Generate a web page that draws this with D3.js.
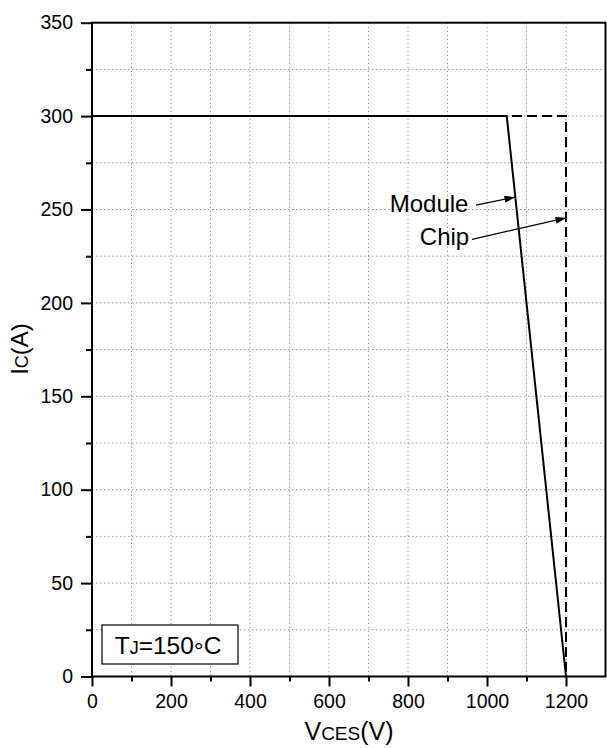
<!DOCTYPE html>
<html>
<head>
<meta charset="utf-8">
<script src="https://cdn.jsdelivr.net/npm/d3@7"></script>
<style>
  html, body { margin: 0; padding: 0; background: #fff; }
  svg { display: block; font-family: "Liberation Sans", Arial, sans-serif; }
</style>
</head>
<body>
<svg id="chart" width="607" height="748"></svg>
<script>
// Reverse bias safe operating area (RBSOA) data
const moduleV = [0, 1050, 1200];
const moduleI = [300, 300, 0];
const chipV = [0, 1200, 1200];
const chipI = [300, 300, 0];

const xMajorTicks = [0, 200, 400, 600, 800, 1000, 1200];
const xMinorTicks = [100, 300, 500, 700, 900, 1100];
const yMajorTicks = [0, 50, 100, 150, 200, 250, 300, 350];
const yMinorTicks = [25, 75, 125, 175, 225, 275, 325];

// Curve labels with leader arrows, in data units [V, I]
const annotationNames = ["Module", "Chip"];
const annotationText = [[953, 248.6], [955, 231]];
const annotationTail = [[972, 252.3], [962, 234]];
const annotationTip = [[1071, 256.6], [1200, 245.5]];

const svg = d3.select("#chart");
const plotLeft = 92, plotRight = 605.5, plotTop = 22.7, plotBottom = 676.5;

const x = d3.scaleLinear().domain([0, 1300]).range([plotLeft, plotRight]);
const y = d3.scaleLinear().domain([0, 350]).range([plotBottom, plotTop]);

// Grid
const grid = svg.append("g")
  .attr("stroke", "#9a9a9a")
  .attr("stroke-width", 1)
  .attr("stroke-dasharray", "1.5,2.5");
grid.selectAll("line.vx")
  .data(xMajorTicks.concat(xMinorTicks).filter(v => v > 0))
  .join("line")
  .attr("class", "vx")
  .attr("x1", d => x(d)).attr("x2", d => x(d))
  .attr("y1", plotTop).attr("y2", plotBottom);
grid.selectAll("line.hy")
  .data(yMajorTicks.concat(yMinorTicks).filter(v => v > 0 && v < 350))
  .join("line")
  .attr("class", "hy")
  .attr("x1", plotLeft).attr("x2", plotRight)
  .attr("y1", d => y(d)).attr("y2", d => y(d));

// Axes
const tickFont = 19.5;
const xAxis = d3.axisBottom(x).tickValues(xMajorTicks).tickSize(10).tickPadding(8).tickFormat(d3.format("d"));
const xAxisMinor = d3.axisBottom(x).tickValues(xMinorTicks).tickSize(5).tickFormat("");
const yAxis = d3.axisLeft(y).tickValues(yMajorTicks).tickSize(11).tickPadding(8).tickFormat(d3.format("d"));
const yAxisMinor = d3.axisLeft(y).tickValues(yMinorTicks).tickSize(6).tickFormat("");

function styleAxis(g) {
  g.select(".domain").remove();
  g.selectAll("line").attr("stroke", "#000").attr("stroke-width", 2);
  g.selectAll("text").attr("fill", "#000").style("font-size", tickFont + "px")
    .style("font-family", '"Liberation Sans", Arial, sans-serif');
}

svg.append("g").attr("transform", `translate(0,${plotBottom})`).call(xAxis).call(styleAxis);
svg.append("g").attr("transform", `translate(0,${plotBottom})`).call(xAxisMinor).call(styleAxis);
svg.append("g").attr("transform", `translate(${plotLeft},0)`).call(yAxis).call(styleAxis);
svg.append("g").attr("transform", `translate(${plotLeft},0)`).call(yAxisMinor).call(styleAxis);

// Curves
const line = d3.line().x(d => x(d[0])).y(d => y(d[1]));

svg.append("path")
  .datum(chipV.map((v, i) => [v, chipI[i]]))
  .attr("d", line)
  .attr("fill", "none").attr("stroke", "#000").attr("stroke-width", 2)
  .attr("stroke-dasharray", "10,5");

svg.append("path")
  .datum(moduleV.map((v, i) => [v, moduleI[i]]))
  .attr("d", line)
  .attr("fill", "none").attr("stroke", "#000").attr("stroke-width", 2);

// Frame
svg.append("rect")
  .attr("x", plotLeft).attr("y", plotTop)
  .attr("width", plotRight - plotLeft).attr("height", plotBottom - plotTop)
  .attr("fill", "none").attr("stroke", "#000").attr("stroke-width", 2);

// Arrow marker
svg.append("defs").append("marker")
  .attr("id", "arrow")
  .attr("viewBox", "0 0 12 8")
  .attr("refX", 12).attr("refY", 4)
  .attr("markerWidth", 12).attr("markerHeight", 7)
  .attr("markerUnits", "userSpaceOnUse")
  .attr("orient", "auto")
  .append("path").attr("d", "M0,0 L12,4 L0,8 Z").attr("fill", "#000");

annotationNames.forEach((name, i) => {
  svg.append("line")
    .attr("x1", x(annotationTail[i][0])).attr("y1", y(annotationTail[i][1]))
    .attr("x2", x(annotationTip[i][0])).attr("y2", y(annotationTip[i][1]))
    .attr("stroke", "#000").attr("stroke-width", 1.2)
    .attr("marker-end", "url(#arrow)");
  svg.append("text")
    .attr("x", x(annotationText[i][0])).attr("y", y(annotationText[i][1]))
    .attr("text-anchor", "end")
    .style("font-size", "24px")
    .text(name);
});

// Junction temperature label
svg.append("rect")
  .attr("x", 102).attr("y", 625).attr("width", 136).attr("height", 39)
  .attr("fill", "#fff").attr("stroke", "#000").attr("stroke-width", 1.2);
const tj = svg.append("text").attr("x", 168).attr("y", 654)
  .attr("text-anchor", "middle").style("font-size", "24.5px");
tj.append("tspan").text("T");
tj.append("tspan").style("font-size", "18px").text("J");
tj.append("tspan").text("=150");
tj.append("tspan").attr("dy", 4.5).text("\u00b0");
tj.append("tspan").attr("dy", -4.5).text("C");

// Axis titles
const xt = svg.append("text").attr("x", 349).attr("y", 740)
  .attr("text-anchor", "middle").style("font-size", "25px");
xt.append("tspan").text("V");
xt.append("tspan").style("font-size", "19px").text("CES");
xt.append("tspan").text("(V)");

const yt = svg.append("text")
  .attr("transform", "translate(27.5,349) rotate(-90)")
  .attr("text-anchor", "middle").style("font-size", "24px");
yt.append("tspan").text("I");
yt.append("tspan").style("font-size", "18px").text("C");
yt.append("tspan").text("(A)");
</script>
</body>
</html>
